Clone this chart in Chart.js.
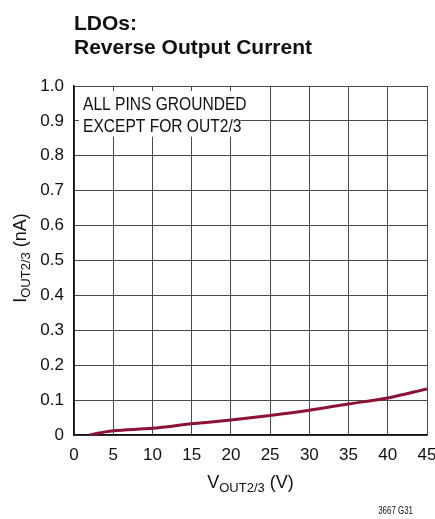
<!DOCTYPE html>
<html lang="en">
<head>
<meta charset="UTF-8">
<script src="https://cdn.jsdelivr.net/npm/chart.js"></script>
<title>LDOs: Reverse Output Current</title>
<style>
  html, body { margin: 0; padding: 0; background: #fff; }
  #wrap { width: 435px; height: 519px; position: relative; }
</style>
</head>
<body>
<div id="wrap"><canvas id="grafico" width="435" height="519"></canvas></div>
<script>
// data
var vout = [2, 3, 4, 5, 10, 15, 20, 25, 30, 35, 40, 45]
var iout = [0, 0.005, 0.009, 0.012, 0.019, 0.032, 0.043, 0.056, 0.071, 0.089, 0.106, 0.132]
var xTicks = ['0', '5', '10', '15', '20', '25', '30', '35', '40', '45']
var yTicks = ['0', '0.1', '0.2', '0.3', '0.4', '0.5', '0.6', '0.7', '0.8', '0.9', '1.0']

var fonte = '"Liberation Sans", Arial, sans-serif'

var pontos = []
for (var i = 0; i < vout.length; i++) {
    pontos.push({ x: vout[i], y: iout[i] })
}

// text squeezed sideways, to look like the condensed face of the original
function textoEstreito(ctx, txt, x, y, escala) {
    ctx.save()
    ctx.translate(x, y)
    ctx.scale(escala, 1)
    ctx.fillText(txt, 0, 0)
    ctx.restore()
}

// white note box over the grid, top-left
var caixaNota = {
    id: 'caixaNota',
    beforeDatasetsDraw: function (chart) {
        var ctx = chart.ctx
        var a = chart.chartArea
        var x2 = chart.scales.x.getPixelForValue(21.2)
        var y2 = chart.scales.y.getPixelForValue(0.855)
        ctx.save()
        ctx.fillStyle = '#fff'
        ctx.fillRect(a.left + 5, a.top + 5, x2 - a.left - 5, y2 - a.top - 5)
        ctx.fillStyle = '#111'
        ctx.font = '17.5px ' + fonte
        ctx.textBaseline = 'alphabetic'
        textoEstreito(ctx, 'ALL PINS GROUNDED', a.left + 9, a.top + 24, 0.89)
        textoEstreito(ctx, 'EXCEPT FOR OUT2/3', a.left + 9, a.top + 46, 0.89)
        ctx.restore()
    }
}

// titles and axis labels with subscripts
var textos = {
    id: 'textos',
    afterDraw: function (chart) {
        var ctx = chart.ctx
        var a = chart.chartArea
        ctx.save()
        ctx.fillStyle = '#111'
        ctx.textBaseline = 'alphabetic'
        ctx.font = 'bold 21px ' + fonte
        ctx.fillText('LDOs:', 74, 30)
        ctx.fillText('Reverse Output Current', 74, 54)

        // x axis label
        var p1 = 'V', sub = 'OUT2/3', p2 = ' (V)'
        ctx.font = '18px ' + fonte
        var w1 = ctx.measureText(p1).width
        var w3 = ctx.measureText(p2).width
        ctx.font = '13px ' + fonte
        var w2 = ctx.measureText(sub).width
        var cx = (a.left + a.right) / 2
        var x0 = cx - (w1 + w2 + w3) / 2
        var by = 488
        ctx.font = '18px ' + fonte
        ctx.fillText(p1, x0, by)
        ctx.font = '13px ' + fonte
        ctx.fillText(sub, x0 + w1, by + 4)
        ctx.font = '18px ' + fonte
        ctx.fillText(p2, x0 + w1 + w2, by)

        // y axis label (rotated)
        ctx.save()
        ctx.translate(26, 258)
        ctx.rotate(-Math.PI / 2)
        var q1 = 'I', q3 = ' (nA)'
        ctx.font = '18px ' + fonte
        var v1 = ctx.measureText(q1).width
        var v3 = ctx.measureText(q3).width
        ctx.font = '13px ' + fonte
        var v2 = ctx.measureText(sub).width
        var s0 = -(v1 + v2 + v3) / 2
        ctx.font = '18px ' + fonte
        ctx.fillText(q1, s0, 0)
        ctx.font = '13px ' + fonte
        ctx.fillText(sub, s0 + v1, 4)
        ctx.font = '18px ' + fonte
        ctx.fillText(q3, s0 + v1 + v2, 0)
        ctx.restore()

        // figure code
        ctx.font = '11px ' + fonte
        ctx.textAlign = 'right'
        ctx.save()
        ctx.translate(413, 514)
        ctx.scale(0.72, 1)
        ctx.fillText('3667 G31', 0, 0)
        ctx.restore()
        ctx.restore()
    }
}

new Chart(grafico, {
    type: 'line',
    data: {
        datasets: [{
            data: pontos,
            borderColor: '#8c1236',
            borderWidth: 3,
            pointRadius: 0,
            cubicInterpolationMode: 'monotone',
            fill: false
        }]
    },
    options: {
        responsive: false,
        animation: false,
        layout: { padding: { top: 86, right: 8, left: 0, bottom: 0 } },
        plugins: {
            legend: { display: false },
            tooltip: { enabled: false }
        },
        scales: {
            x: {
                type: 'linear',
                min: 0,
                max: 45,
                afterFit: function (s) {
                    s.height = 84
                    s.paddingLeft = 0
                    s.paddingRight = 0
                },
                ticks: {
                    stepSize: 5,
                    padding: 10,
                    color: '#111',
                    font: { family: fonte, size: 17 },
                    maxRotation: 0,
                    callback: function (v) { return xTicks[Math.round(v / 5)] }
                },
                grid: { color: '#4a4a4a', lineWidth: 1, drawTicks: false },
                border: { color: '#111', width: 1.5 }
            },
            y: {
                min: 0,
                max: 1,
                afterFit: function (s) {
                    s.width = 74
                    s.paddingTop = 0
                    s.paddingBottom = 0
                },
                ticks: {
                    stepSize: 0.1,
                    padding: 10,
                    color: '#111',
                    font: { family: fonte, size: 17 },
                    callback: function (v) { return yTicks[Math.round(v * 10)] }
                },
                grid: { color: '#4a4a4a', lineWidth: 1, drawTicks: false },
                border: { color: '#111', width: 1.5 }
            }
        }
    },
    plugins: [caixaNota, textos]
})
</script>
</body>
</html>
